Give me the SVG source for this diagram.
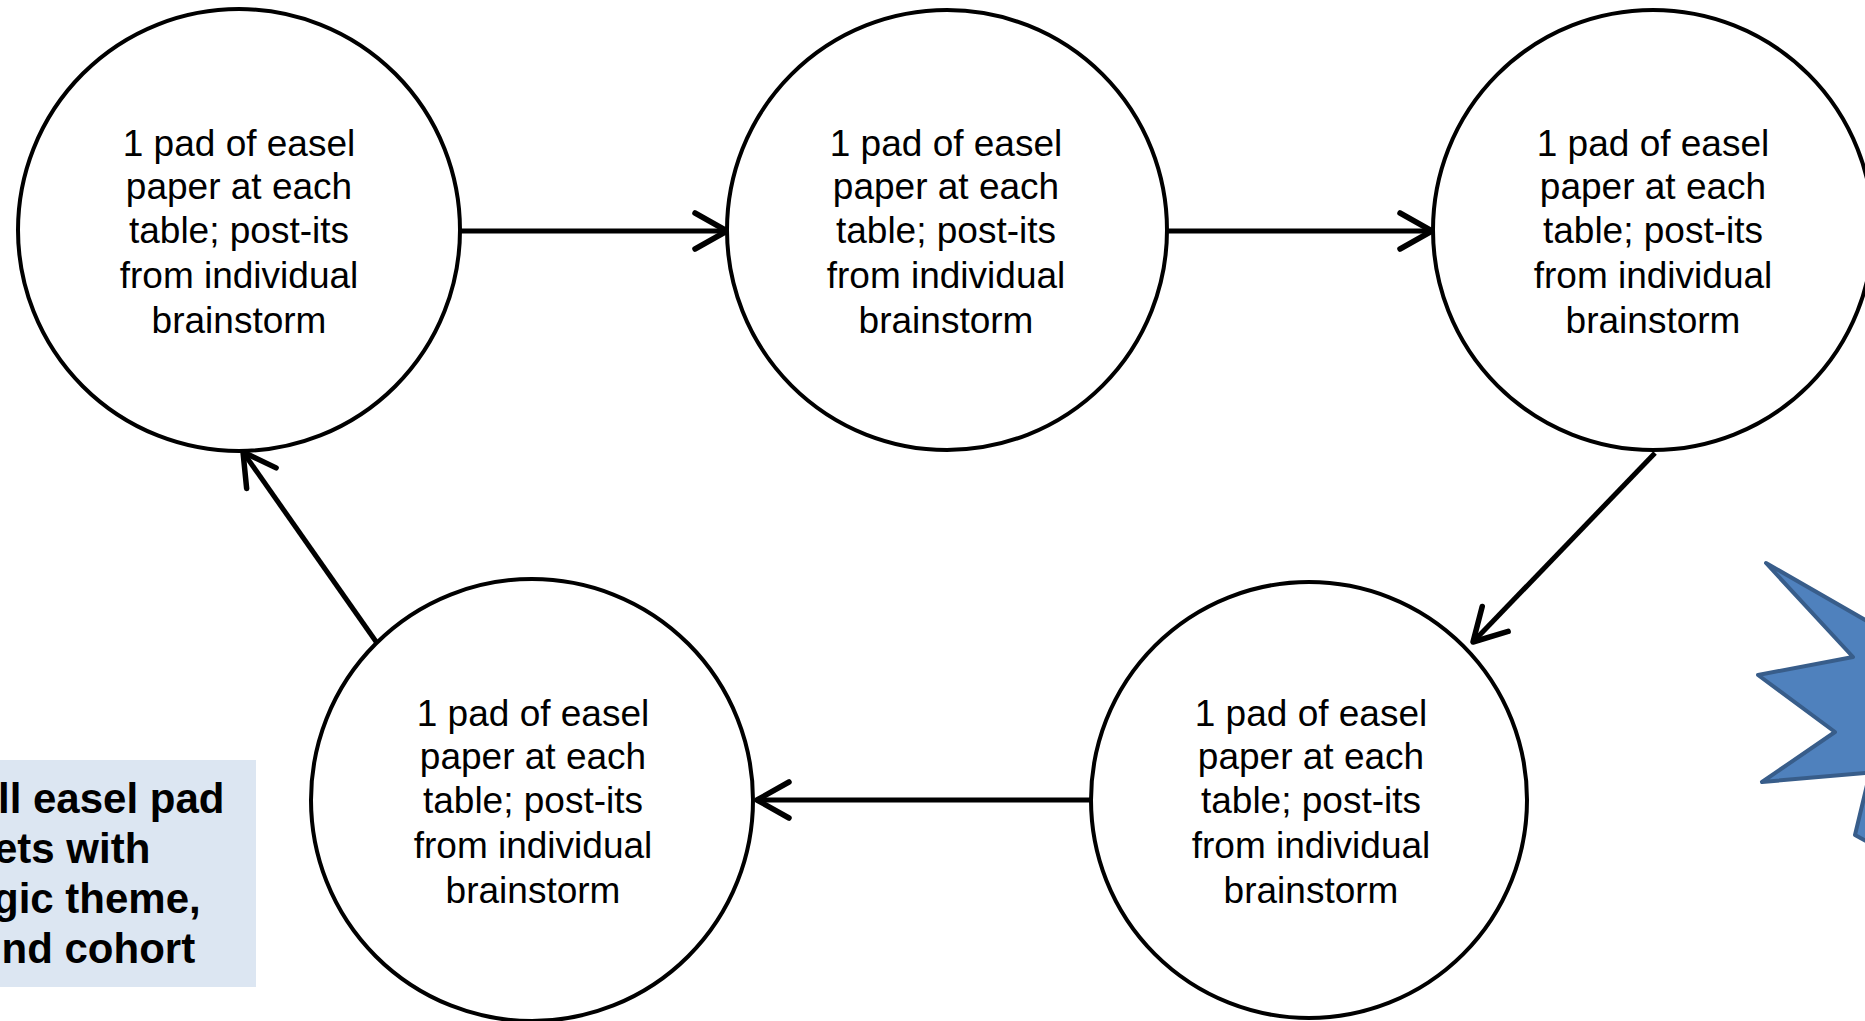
<svg xmlns="http://www.w3.org/2000/svg" width="1865" height="1021" viewBox="0 0 1865 1021">
<style>
.node circle{fill:#fff;stroke:#000;stroke-width:4}
.node text{font-family:"Liberation Sans",Arial,sans-serif;font-size:37px;fill:#000;text-anchor:middle}
.conn line{stroke:#000;stroke-width:5}
.note text{font-family:"Liberation Sans",Arial,sans-serif;font-size:42px;font-weight:bold;fill:#000}
</style>
<defs>
<marker id="chev" markerUnits="userSpaceOnUse" markerWidth="80" markerHeight="80" viewBox="-40 -40 80 80" refX="0" refY="0" orient="auto">
<path d="M-32,-18 L0,0 L-32,18" fill="none" stroke="#000" stroke-width="5.5" stroke-linecap="round" stroke-linejoin="round"/>
</marker>
</defs>
<rect width="1865" height="1021" fill="#fff"/>
<g id="star">
<polygon points="1900,640 1766,563 1853,657 1758,675 1835,732 1762,782 1870,772.5 1855,835 1900,860" fill="#4F81BD" stroke="#385D8A" stroke-width="4" stroke-linejoin="round"/>
</g>
<g id="note" class="note">
<rect x="0" y="760" width="256" height="227" fill="#DCE6F2"/>
<text x="-2" y="813">ll easel pad</text>
<text x="-6" y="863">ets with</text>
<text x="-7" y="913">gic theme,</text>
<text x="1.5" y="963">nd cohort</text>
</g>
<g id="connectors" class="conn">
<line x1="461" y1="231" x2="727" y2="231" marker-end="url(#chev)"/>
<line x1="1167" y1="231" x2="1432" y2="231" marker-end="url(#chev)"/>
<line x1="1655" y1="453" x2="1473" y2="642" marker-end="url(#chev)"/>
<line x1="1092" y1="800" x2="757" y2="800" marker-end="url(#chev)"/>
<line x1="377" y1="643" x2="243" y2="452" marker-end="url(#chev)"/>
</g>
<g id="n1" class="node">
<circle cx="239" cy="230" r="221"/>
<text x="239" y="156">1 pad of easel</text>
<text x="239" y="199">paper at each</text>
<text x="239" y="243">table; post-its</text>
<text x="239" y="288">from individual</text>
<text x="239" y="333">brainstorm</text>
</g>
<g id="n2" class="node">
<circle cx="947" cy="230" r="220"/>
<text x="946" y="156">1 pad of easel</text>
<text x="946" y="199">paper at each</text>
<text x="946" y="243">table; post-its</text>
<text x="946" y="288">from individual</text>
<text x="946" y="333">brainstorm</text>
</g>
<g id="n3" class="node">
<circle cx="1653" cy="230" r="220"/>
<text x="1653" y="156">1 pad of easel</text>
<text x="1653" y="199">paper at each</text>
<text x="1653" y="243">table; post-its</text>
<text x="1653" y="288">from individual</text>
<text x="1653" y="333">brainstorm</text>
</g>
<g id="n4" class="node">
<circle cx="1309" cy="800" r="218"/>
<text x="1311" y="726">1 pad of easel</text>
<text x="1311" y="769">paper at each</text>
<text x="1311" y="813">table; post-its</text>
<text x="1311" y="858">from individual</text>
<text x="1311" y="903">brainstorm</text>
</g>
<g id="n5" class="node">
<circle cx="532" cy="800" r="221"/>
<text x="533" y="726">1 pad of easel</text>
<text x="533" y="769">paper at each</text>
<text x="533" y="813">table; post-its</text>
<text x="533" y="858">from individual</text>
<text x="533" y="903">brainstorm</text>
</g>
</svg>
